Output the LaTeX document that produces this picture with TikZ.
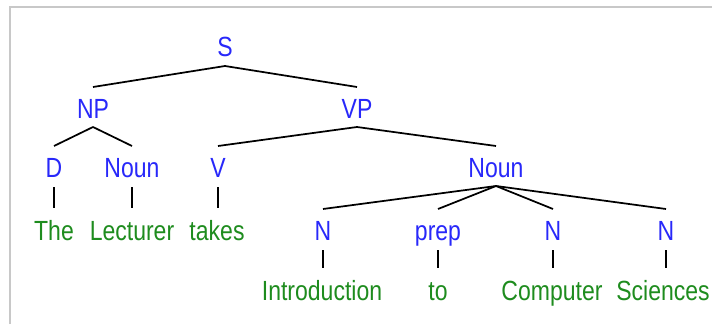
\documentclass[tikz,border=0pt]{standalone}
\usepackage{fontspec}
\setmainfont{Liberation Sans}[FakeStretch=0.83]
\usetikzlibrary{calc}
\definecolor{catblue}{RGB}{40,40,250}
\definecolor{wordgreen}{RGB}{30,140,30}
\definecolor{framegray}{RGB}{200,200,200}
\begin{document}
\begin{tikzpicture}[x=0.75pt,y=-0.75pt,
  cat/.style={text=catblue,anchor=base,inner sep=0pt,font=\fontsize{20.8}{21}\selectfont},
  word/.style={cat,text=wordgreen},
  edge/.style={line width=1.3pt,black}]
\clip (0,0) rectangle (712,324);
\fill[white] (0,0) rectangle (712,324);
\draw[line width=1.5pt, framegray] (9.5,324) -- (9.5,7.5) -- (712,7.5);
% categories
\node[cat] (S) at (225,57) {S};
\node[cat] (NP) at (93,118) {NP};
\node[cat] (VP) at (357,118) {VP};
\node[cat] (D) at (54,177) {D};
\node[cat] (Noun1) at (132,177) {Noun};
\node[cat] (V) at (218,177) {V};
\node[cat] (Noun2) at (496,177) {Noun};
\node[cat] (N1) at (323,240) {N};
\node[cat] (Prep) at (438,240) {prep};
\node[cat] (N2) at (553,240) {N};
\node[cat] (N3) at (666,240) {N};
% words
\node[word] (The) at (54,240) {The};
\node[word] (Lecturer) at (132,240) {Lecturer};
\node[word] (Takes) at (217,240) {takes};
\node[word] (Intro) at (322,300) {Introduction};
\node[word] (To) at (438,300) {to};
\node[word] (Computer) at (552,300) {Computer};
\node[word,anchor=base east] (Sciences) at (710,300) {Sciences};
% edges
\foreach \p/\c in {S/NP,S/VP,NP/D,NP/Noun1,VP/V,VP/Noun2,Noun2/N1,Noun2/Prep,Noun2/N2,Noun2/N3}
  \draw[edge] ($(\p.base)+(0,9)$) -- ($(\c.base)+(0,-31)$);
\foreach \p/\c in {D/The,Noun1/Lecturer,V/Takes,N1/Intro,Prep/To,N2/Computer,N3/Sciences}
  \draw[edge] ($(\p.base)+(0,10)$) -- ($(\p.base |- \c.base)+(0,-32)$);
\end{tikzpicture}
\end{document}
